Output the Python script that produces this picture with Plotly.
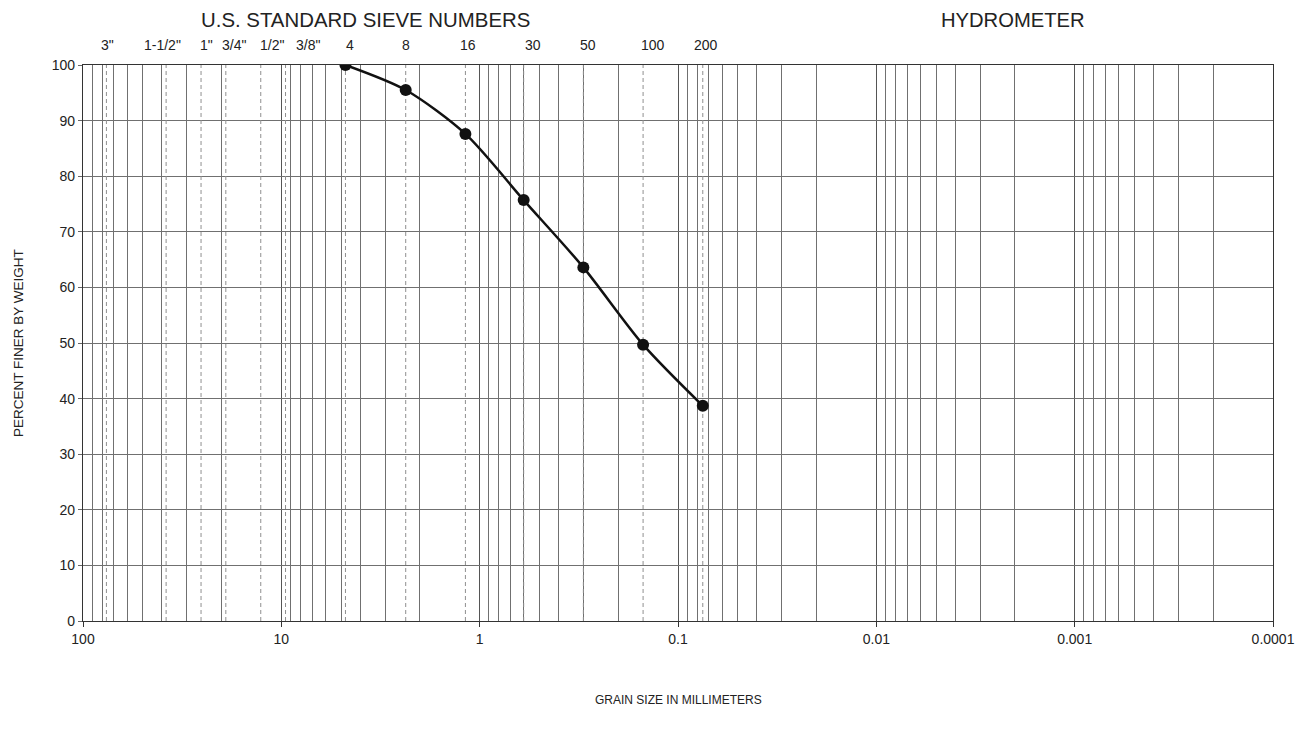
import math
import plotly.graph_objects as go

# ---- data ----
sieve_labels = ['3"', '1-1/2"', '1"', '3/4"', '1/2"', '3/8"', '4', '8', '16', '30', '50', '100', '200']
sieve_mm = [76.2, 38.1, 25.4, 19.05, 12.7, 9.525, 4.75, 2.36, 1.18, 0.6, 0.3, 0.15, 0.075]
test_size_mm = [4.75, 2.36, 1.18, 0.6, 0.3, 0.15, 0.075]
percent_finer = [100, 95.5, 87.6, 75.7, 63.6, 49.7, 38.7]
x_tick_vals = [100, 10, 1, 0.1, 0.01, 0.001, 0.0001]
x_tick_text = ["100", "10", "1", "0.1", "0.01", "0.001", "0.0001"]

# label nudges (px) to match header placement
label_shift = [1, -4, 5, 8, 11, 22, 5, 0, 3, 9, 5, 10, 3]

FONT = "Liberation Sans, Arial, sans-serif"

fig = go.Figure()

# dashed sieve reference lines
dx, dy = [], []
for s in sieve_mm:
    dx += [s, s, None]
    dy += [0, 100, None]
fig.add_trace(go.Scatter(x=dx, y=dy, mode="lines",
                         line=dict(color="#8f8f8f", width=1, dash="4px,3px"),
                         hoverinfo="skip", showlegend=False))

# gradation curve
fig.add_trace(go.Scatter(x=test_size_mm, y=percent_finer, mode="lines+markers",
                         line=dict(color="#111111", width=2.5, shape="spline", smoothing=0.8),
                         marker=dict(color="#111111", size=12),
                         showlegend=False))

fig.update_xaxes(
    type="log", range=[2, -4],
    tickmode="array", tickvals=x_tick_vals, ticktext=x_tick_text,
    ticks="outside", ticklen=5, tickcolor="#333", tickwidth=1,
    showgrid=True, gridcolor="#555", gridwidth=1,
    minor=dict(dtick="D1", showgrid=True, gridcolor="#707070", gridwidth=1, ticks=""),
    showline=True, linecolor="#333", linewidth=1.2, mirror=True,
    tickfont=dict(family=FONT, size=14, color="#222"),
    zeroline=False,
)
fig.update_yaxes(
    range=[0, 100], dtick=10, tick0=0,
    ticks="outside", ticklen=4, tickcolor="#666",
    showgrid=True, gridcolor="#707070", gridwidth=1,
    showline=True, linecolor="#333", linewidth=1.2, mirror=True,
    tickfont=dict(family=FONT, size=14, color="#222"),
    zeroline=False,
)

annotations = []
for lab, s, sh in zip(sieve_labels, sieve_mm, label_shift):
    annotations.append(dict(x=math.log10(s), xref="x", y=1, yref="paper",
                            text=lab, showarrow=False, xanchor="center", yanchor="middle",
                            yshift=20, xshift=sh,
                            font=dict(family=FONT, size=14, color="#222")))
annotations.append(dict(x=0.2378, xref="paper", y=1.081, yref="paper",
                        text="U.S. STANDARD SIEVE NUMBERS", showarrow=False,
                        xanchor="center", yanchor="middle",
                        font=dict(family=FONT, size=20.4, color="#222")))
annotations.append(dict(x=0.7815, xref="paper", y=1.081, yref="paper",
                        text="HYDROMETER", showarrow=False,
                        xanchor="center", yanchor="middle",
                        font=dict(family=FONT, size=20.2, color="#222")))
annotations.append(dict(x=0.5, xref="paper", y=-0.142, yref="paper",
                        text="GRAIN SIZE IN MILLIMETERS", showarrow=False,
                        xanchor="center", yanchor="middle",
                        font=dict(family=FONT, size=12, color="#222")))
annotations.append(dict(x=-0.0546, xref="paper", y=0.5, yref="paper",
                        text="PERCENT FINER BY WEIGHT", showarrow=False, textangle=-90,
                        xanchor="center", yanchor="middle",
                        font=dict(family=FONT, size=13.5, color="#222")))

fig.update_layout(
    width=1308, height=736,
    margin=dict(l=83, r=35, t=65, b=115),
    paper_bgcolor="white", plot_bgcolor="white",
    annotations=annotations,
    showlegend=False,
)

fig.write_html("out.html")
